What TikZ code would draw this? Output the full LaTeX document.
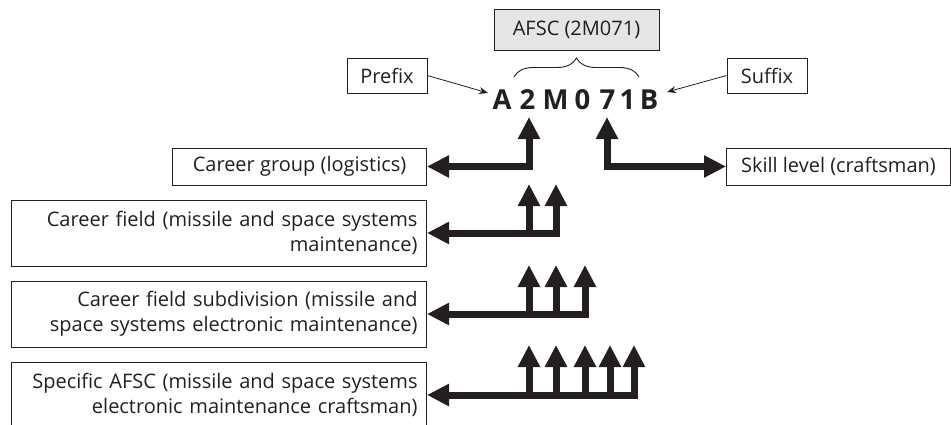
\documentclass[tikz,border=0pt]{standalone}
\usepackage{fontspec}
\setmainfont{Open Sans}
\usepackage{tikz}
\usetikzlibrary{arrows.meta}
\usetikzlibrary{decorations.pathreplacing}
\definecolor{ink}{RGB}{35,31,32}
\hyphenpenalty=10000
\tikzset{
  bigtip/.tip={Triangle[width=21pt,length=22pt]},
  tagbox/.style={draw=ink, line width=0.9pt, text=ink, font=\fontsize{20}{25}\selectfont, inner xsep=9pt, inner ysep=0pt},
  codechar/.style={text=ink, font=\fontsize{27.5}{30}\selectfont\bfseries, inner sep=0pt, anchor=base},
  bigarrow/.style={draw=ink, line width=7pt},
  pointer/.style={draw=ink, line width=0.8pt, -{Stealth[length=9pt,width=7pt]}},
}
\begin{document}
\begin{tikzpicture}[x=1pt,y=-1pt]
  \useasboundingbox (0,0) rectangle (951,424);

  \node[tagbox, fill=black!10, minimum width=165pt, minimum height=41pt] (afsc) at (576.5,29.5) {AFSC (2M071)};
  \node[tagbox, inner xsep=0pt, minimum width=80pt, minimum height=35pt] (prefix) at (387,75.5) {Prefix};
  \node[tagbox, inner xsep=0pt, minimum width=80pt, minimum height=35pt] (suffix) at (767,75.5) {Suffix};

  \node[tagbox, anchor=east, minimum width=254pt, minimum height=37pt] (group) at (427,166.5) {Career group (logistics)};
  \node[tagbox, anchor=west, minimum width=224pt, minimum height=37pt] (skill) at (726,166.5) {Skill level (craftsman)};
  \node[tagbox, anchor=east, text width=397pt, align=right, minimum height=66pt] (field) at (427,233) {Career field (missile and space systems\\maintenance)};
  \node[tagbox, anchor=east, text width=397pt, align=right, minimum height=66pt] (subdiv) at (427,314) {Career field subdivision (missile and\\space systems electronic maintenance)};
  \node[tagbox, anchor=east, text width=397pt, align=right, minimum height=66pt] (specific) at (427,395) {Specific AFSC (missile and space systems\\electronic maintenance craftsman)};

  \foreach \ch/\x [count=\i] in {A/502,2/527.5,M/555.5,0/582.5,7/607.5,1/627.5,B/649}
    \node[codechar] (c\i) at (\x,109) {\ch};

  \coordinate (bl) at (514,77);
  \coordinate (br) at (639,77);
  \draw[ink, line width=0.9pt, decorate, decoration={brace, amplitude=19pt}] (bl) -- (br);

  \coordinate (pA) at (488,93);
  \coordinate (pB) at (667,92);
  \draw[pointer] (prefix.east) -- (pA);
  \draw[pointer] (suffix.west) -- (pB);

  \coordinate (t2) at (529,117);
  \coordinate (t7) at (607,117);
  \draw[bigarrow, bigtip-bigtip] (t2) |- (group.east);
  \draw[bigarrow, bigtip-bigtip] (t7) |- (skill.west);

  \draw[bigarrow, bigtip-bigtip] (556,184) |- (field.east);
  \foreach \x in {529}
    \draw[bigarrow, -bigtip] (\x,236.5) -- (\x,184);

  \draw[bigarrow, bigtip-bigtip] (585,265) |- (subdiv.east);
  \foreach \x in {529,556}
    \draw[bigarrow, -bigtip] (\x,317.5) -- (\x,265);

  \draw[bigarrow, bigtip-bigtip] (634,345) |- (specific.east);
  \foreach \x in {529,556,585,610}
    \draw[bigarrow, -bigtip] (\x,398.5) -- (\x,345);
\end{tikzpicture}
\end{document}
